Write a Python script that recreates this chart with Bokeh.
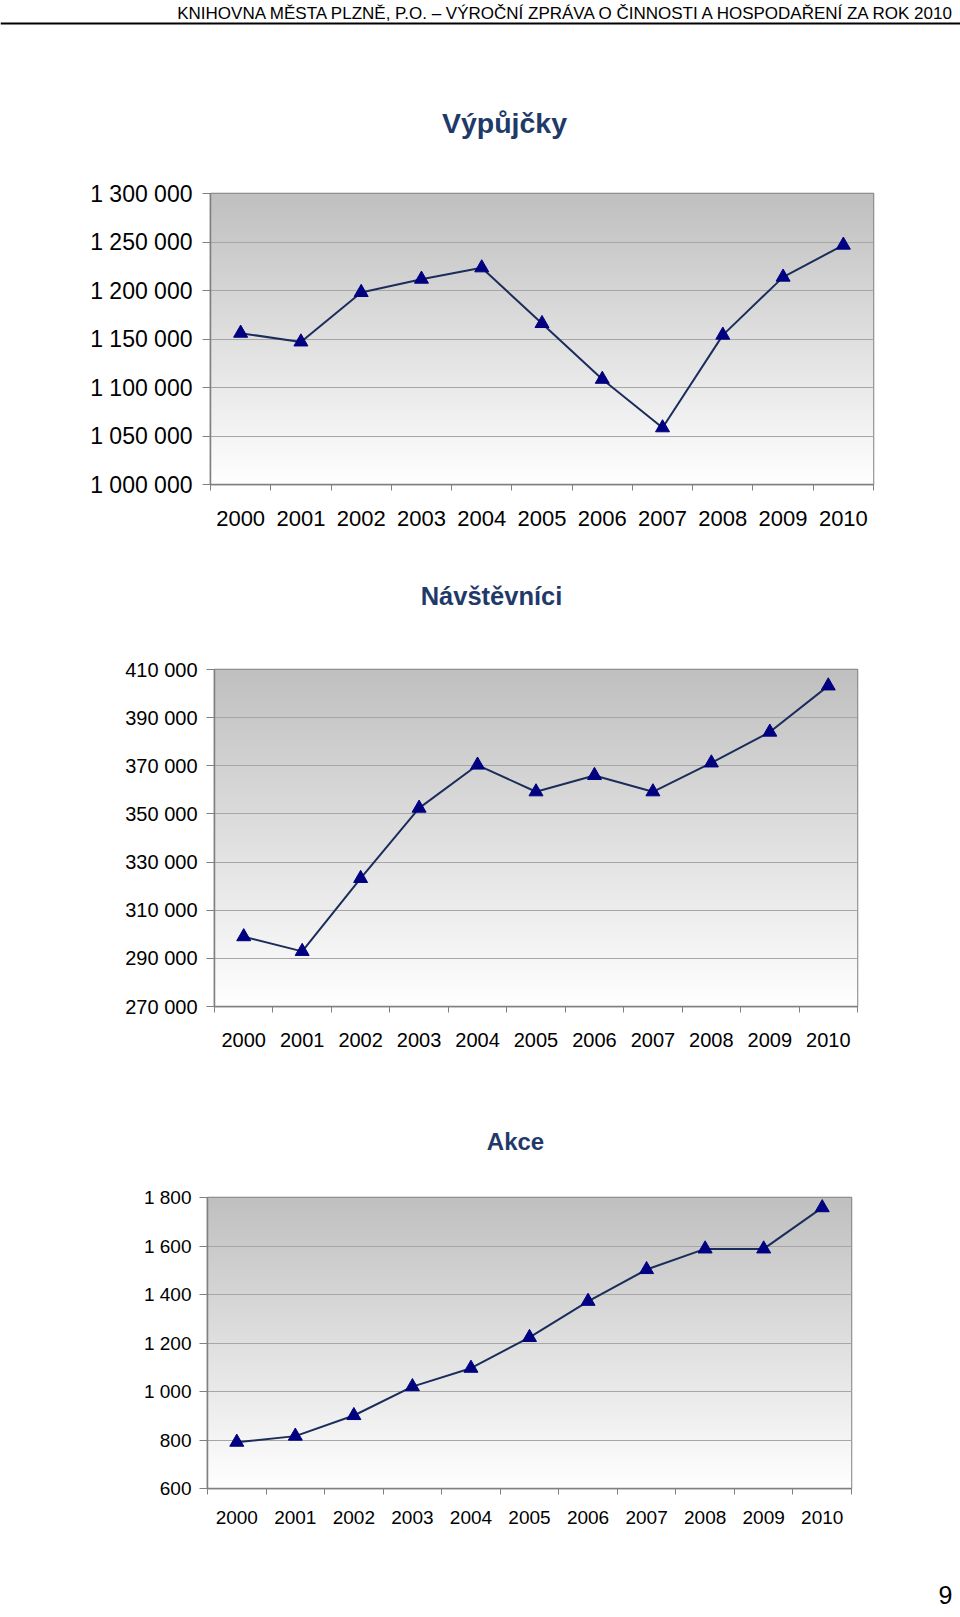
import numpy as np
from bokeh.plotting import figure
from bokeh.layouts import column
from bokeh.models import Range1d, FixedTicker, Span
from bokeh.embed import file_html
from bokeh.resources import INLINE
from bokeh.core.properties import value

# ---------------- data ----------------
header_text = "KNIHOVNA MĚSTA PLZNĚ, P.O. – VÝROČNÍ ZPRÁVA O ČINNOSTI A HOSPODAŘENÍ ZA ROK 2010"
page_number = "9"

years = ["2000", "2001", "2002", "2003", "2004", "2005", "2006", "2007", "2008", "2009", "2010"]

title_vypujcky = "Výpůjčky"
vypujcky = [1156000, 1147000, 1198000, 1211700, 1223400, 1166000, 1108500, 1058500, 1154000, 1213800, 1246800]
vyp_ticks = [1000000, 1050000, 1100000, 1150000, 1200000, 1250000, 1300000]
vyp_labels = ["1 000 000", "1 050 000", "1 100 000", "1 150 000", "1 200 000", "1 250 000", "1 300 000"]

title_navstevnici = "Návštěvníci"
navstevnici = [299000, 292900, 323200, 352400, 370300, 359200, 366000, 359200, 371200, 384000, 403200]
nav_ticks = [270000, 290000, 310000, 330000, 350000, 370000, 390000, 410000]
nav_labels = ["270 000", "290 000", "310 000", "330 000", "350 000", "370 000", "390 000", "410 000"]

title_akce = "Akce"
akce = [791, 816, 901, 1020, 1096, 1223, 1372, 1503, 1588, 1588, 1758]
akce_ticks = [600, 800, 1000, 1200, 1400, 1600, 1800]
akce_labels = ["600", "800", "1 000", "1 200", "1 400", "1 600", "1 800"]

# ---------------- style ----------------
FONT = "Liberation Sans"
TITLE_COLOR = "#1F3A68"
LINE_COLOR = "#1b2d5b"
MARKER_COLOR = "#000080"
AXIS_COLOR = "#808080"
GRID_COLOR = "#a6a6a6"
W = 960


def text_fig(height):
    p = figure(width=W, height=height, x_range=Range1d(0, W), y_range=Range1d(height, 0),
               output_backend="svg", toolbar_location=None, min_border=0,
               x_axis_type=None, y_axis_type=None, frame_align=False)
    p.grid.visible = False
    p.outline_line_color = None
    p.background_fill_color = "white"
    p.border_fill_color = "white"
    return p


def chart(values, ticks, labels, height, bl, br, bt, bb, xsize, ysize, y_standoff, x_standoff):
    n = len(years)
    p = figure(width=W, height=height, x_range=Range1d(0, n), y_range=Range1d(ticks[0], ticks[-1]),
               output_backend="svg", toolbar_location=None, frame_align=False,
               min_border_left=bl, min_border_right=br, min_border_top=bt, min_border_bottom=bb)
    p.background_fill_color = "white"
    p.border_fill_color = "white"
    # gradient background of the plot area
    rows = 256
    t = np.linspace(0.0, 1.0, rows)
    g = np.clip(255 - 63 * t, 0, 255).astype(np.uint8)
    img = np.empty((rows, 1, 4), dtype=np.uint8)
    img[..., 0] = g[:, None]
    img[..., 1] = g[:, None]
    img[..., 2] = g[:, None]
    img[..., 3] = 255
    p.image_rgba(image=[img.view(np.uint32).reshape(rows, 1)], x=0, y=ticks[0], dw=n,
                 dh=ticks[-1] - ticks[0], level="image")

    xs = [i + 0.5 for i in range(n)]
    p.line(xs, values, line_color=LINE_COLOR, line_width=2)
    p.scatter(xs, values, marker="triangle", size=14, fill_color=MARKER_COLOR,
              line_color=MARKER_COLOR)

    xt = FixedTicker(ticks=xs, minor_ticks=list(range(n + 1)))
    p.xaxis.ticker = xt
    p.xaxis.major_label_overrides = {x: y for x, y in zip(xs, years)}
    p.xaxis.major_tick_out = 0
    p.xaxis.major_tick_in = 0
    p.xaxis.minor_tick_out = 6
    p.xaxis.minor_tick_in = 0
    p.xaxis.major_label_standoff = x_standoff
    p.xaxis.major_label_text_font_size = f"{xsize}px"

    yt = FixedTicker(ticks=ticks, minor_ticks=[])
    p.yaxis.ticker = yt
    p.yaxis.major_label_overrides = {k: v for k, v in zip(ticks, labels)}
    p.yaxis.major_tick_out = 8
    p.yaxis.major_tick_in = 0
    p.yaxis.minor_tick_out = 0
    p.yaxis.minor_tick_in = 0
    p.yaxis.major_label_standoff = y_standoff
    p.yaxis.major_label_text_font_size = f"{ysize}px"

    for ax in (p.xaxis, p.yaxis):
        ax.axis_line_color = AXIS_COLOR
        ax.axis_line_width = 1.5
        ax.major_tick_line_color = AXIS_COLOR
        ax.minor_tick_line_color = AXIS_COLOR
        ax.major_tick_line_width = 1
        ax.minor_tick_line_width = 1
        ax.major_label_text_font = FONT
        ax.major_label_text_color = "black"

    p.xgrid.visible = False
    p.ygrid.ticker = yt
    p.ygrid.grid_line_color = GRID_COLOR
    p.ygrid.grid_line_width = 1
    p.outline_line_color = AXIS_COLOR
    p.outline_line_width = 1.5
    return p


# header
h0 = text_fig(40)
h0.text(x=[957], y=[3], text=[header_text], text_align="right", text_baseline="top",
        text_font=value(FONT), text_font_size="17px", text_color="black")
h0.add_layout(Span(location=23, dimension="width", line_color="black", line_width=2))

# title 1
t1 = text_fig(125)
t1.text(x=[504], y=[82], text=[title_vypujcky], text_align="center", text_baseline="middle",
        text_font=value(FONT), text_font_size="28.5px", text_font_style="bold", text_color=TITLE_COLOR)

c1 = chart(vypujcky, vyp_ticks, vyp_labels, 380, 210, 87, 28, 61, 22, 23, 10, 20)

t2 = text_fig(95)
t2.text(x=[491], y=[50], text=[title_navstevnici], text_align="center", text_baseline="middle",
        text_font=value(FONT), text_font_size="25.5px", text_font_style="bold", text_color=TITLE_COLOR)

c2 = chart(navstevnici, nav_ticks, nav_labels, 420, 214, 103, 29, 54, 20, 20, 9, 20)

t3 = text_fig(115)
t3.text(x=[515], y=[81], text=[title_akce], text_align="center", text_baseline="middle",
        text_font=value(FONT), text_font_size="24px", text_font_style="bold", text_color=TITLE_COLOR)

c3 = chart(akce, akce_ticks, akce_labels, 355, 207, 109, 22, 42, 19, 19, 8, 16)

f = text_fig(84)
f.text(x=[952], y=[64], text=[page_number], text_align="right", text_baseline="middle",
       text_font=value(FONT), text_font_size="25px", text_color="black")

layout = column(h0, t1, c1, t2, c2, t3, c3, f, spacing=0)

open("out.html", "w").write(file_html(layout, INLINE))
